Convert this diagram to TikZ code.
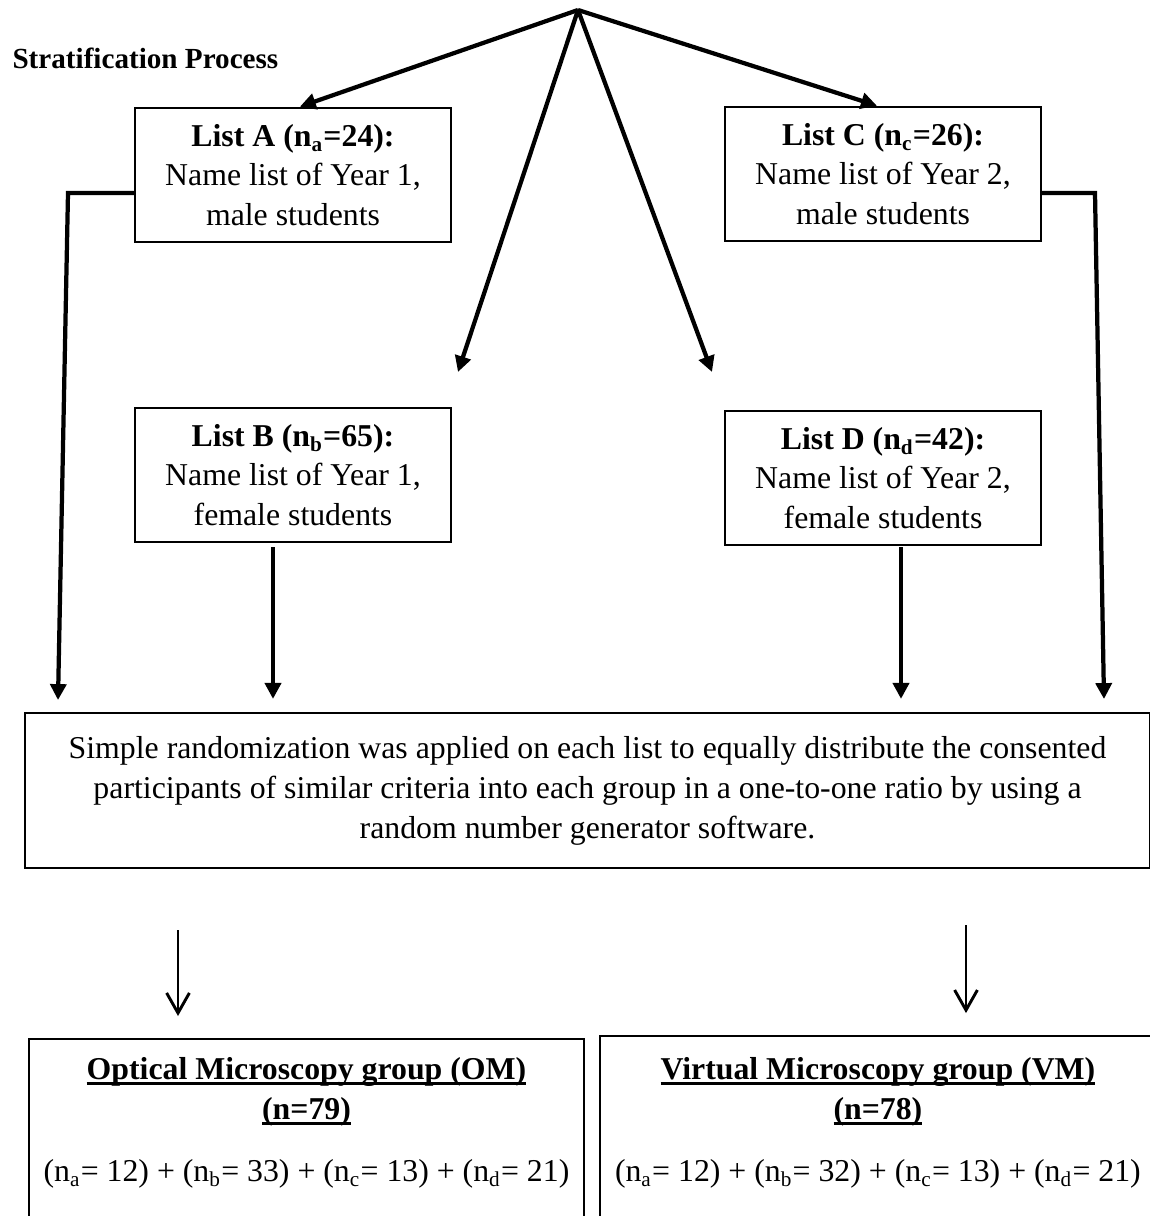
\documentclass[tikz,border=0pt]{standalone}
\usepackage{fontspec}
\setmainfont{Liberation Serif}
\usetikzlibrary{arrows.meta, positioning}

\newcommand{\ulbold}[1]{\setbox0\hbox{\textbf{#1}}\rlap{\rule[-2.3pt]{\wd0}{1.1pt}}\box0}

\begin{document}
\begin{tikzpicture}[
        x=0.3774pt, y=-0.3774pt,
        listbox/.style={rectangle, draw, line width=0.75pt, minimum width=119.3pt, minimum height=50.8pt, align=center, font=\fontsize{12}{14.8}\selectfont},
        textbox/.style={rectangle, draw, line width=0.85pt, minimum width=424.6pt, minimum height=58.5pt, align=center, font=\fontsize{12}{15.1}\selectfont},
        groupbox/.style={rectangle, draw, line width=0.85pt, minimum width=209.5pt, align=center, inner ysep=6.8pt, font=\fontsize{12}{15.1}\selectfont},
        arrow/.style={-{Triangle[length=6pt, width=6pt]}, line width=1.6pt},
        thinarrow/.style={-{Straight Barb[length=7.6pt, width=8.6pt]}, line width=1.1pt},
        heading/.style={font=\fontsize{11}{13}\selectfont\bfseries, anchor=west, inner sep=0pt}
    ]
    \useasboundingbox (0,0) rectangle (1149,1216);

    \node[heading] (head) at (12,58) {Stratification Process};
    \coordinate (apex) at (578,10);

    \node[listbox] (lista) at (293,175) {\textbf{List A (n\textsubscript{a}=24):}\\Name list of Year 1,\\male students};
    \node[listbox] (listc) at (883,174) {\textbf{List C (n\textsubscript{c}=26):}\\Name list of Year 2,\\male students};
    \node[listbox] (listb) at (293,475) {\textbf{List B (n\textsubscript{b}=65):}\\Name list of Year 1,\\female students};
    \node[listbox] (listd) at (883,478) {\textbf{List D (n\textsubscript{d}=42):}\\Name list of Year 2,\\female students};

    \node[textbox] (rand) at (587.5,790.5) {Simple randomization was applied on each list to equally distribute the consented\\participants of similar criteria into each group in a one-to-one ratio by using a\\random number generator software.};

    \node[groupbox, anchor=north] (om) at (306.5,1038) {\ulbold{Optical Microscopy group (OM)}\\\ulbold{(n=79)}\\[8.4pt](n\textsubscript{a}= 12) + (n\textsubscript{b}= 33) + (n\textsubscript{c}= 13) + (n\textsubscript{d}= 21)\\[30pt]\mbox{}};
    \node[groupbox, right=5.3pt of om.north east, anchor=north west, yshift=1.1pt, inner ysep=7.9pt] (vm) {\ulbold{Virtual Microscopy group (VM)}\\\ulbold{(n=78)}\\[8.4pt](n\textsubscript{a}= 12) + (n\textsubscript{b}= 32) + (n\textsubscript{c}= 13) + (n\textsubscript{d}= 21)\\[30pt]\mbox{}};

    % free ends of the connectors
    \coordinate (tipb) at (458,372);
    \coordinate (tipd) at (712,372);
    \coordinate (leftbend) at (68,193);
    \coordinate (lefttip) at (58,700);
    \coordinate (rightbend) at (1095,193);
    \coordinate (righttip) at (1104,699);
    \coordinate (bout) at (273,547);
    \coordinate (dout) at (901,547);
    \coordinate (omdrop) at (178,930);
    \coordinate (vmdrop) at (966,925);

    \draw[arrow] (apex) -- ([xshift=2.6pt]lista.north);
    \draw[arrow] (apex) -- (tipb);
    \draw[arrow] (apex) -- (tipd);
    \draw[arrow] (apex) -- ([xshift=-2.3pt]listc.north);

    \draw[arrow] ([yshift=-6.8pt]lista.west) -- (leftbend) -- (lefttip);
    \draw[arrow] ([yshift=-7.2pt]listc.east) -- (rightbend) -- (righttip);
    \draw[arrow, shorten >=4.9pt] (bout) -- (bout |- rand.north);
    \draw[arrow, shorten >=4.9pt] (dout) -- (dout |- rand.north);

    \draw[thinarrow, shorten >=8.3pt] (omdrop) -- (omdrop |- om.north);
    \draw[thinarrow, shorten >=8.3pt] (vmdrop) -- (vmdrop |- vm.north);

\end{tikzpicture}
\end{document}
